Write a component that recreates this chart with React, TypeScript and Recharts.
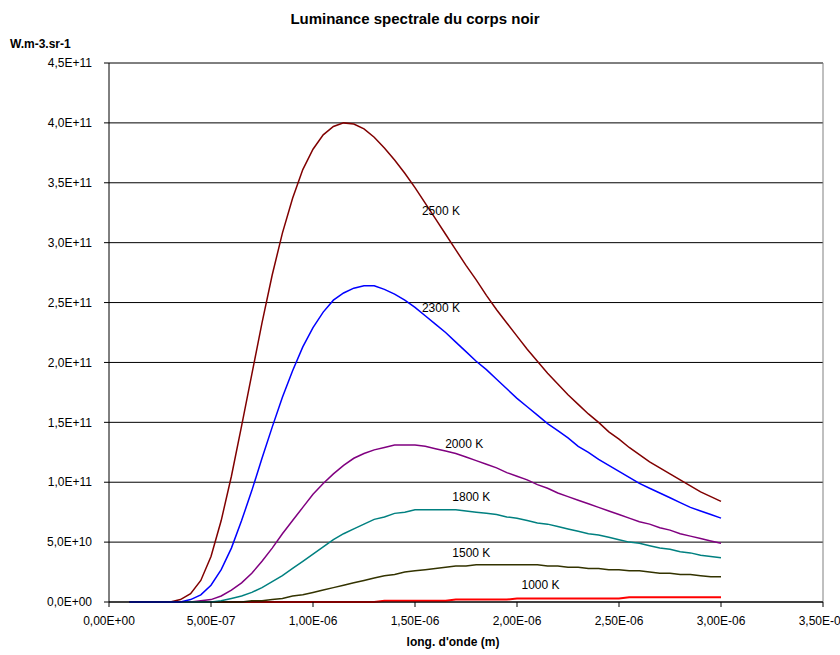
import React from "react";
import { LineChart, Line, XAxis, YAxis, CartesianGrid, ReferenceLine, ReferenceDot } from "recharts";

// wavelength in µm
const wavelengths = [
  0.1, 0.15, 0.2, 0.25, 0.3, 0.35, 0.4, 0.45, 0.5, 0.55, 0.6, 0.65, 0.7, 0.75, 0.8, 0.85, 0.9, 0.95,
  1.0, 1.05, 1.1, 1.15, 1.2, 1.25, 1.3, 1.35, 1.4, 1.45, 1.5, 1.55, 1.6, 1.65, 1.7, 1.75, 1.8, 1.85,
  1.9, 1.95, 2.0, 2.05, 2.1, 2.15, 2.2, 2.25, 2.3, 2.35, 2.4, 2.45, 2.5, 2.55, 2.6, 2.65, 2.7, 2.75,
  2.8, 2.85, 2.9, 2.95, 3.0,
];

// spectral radiance, in 1E+09 W.m-3.sr-1
const t2500 = [
  0, 0, 0, 0, 0, 2, 7, 18, 38, 68, 105, 147, 190, 233, 273, 308, 337, 361,
  378, 390, 397, 400, 399, 395, 388, 379, 369, 358, 346, 333, 320, 307, 294, 281, 269, 256,
  244, 233, 222, 211, 201, 191, 182, 173, 165, 157, 150, 142, 136, 129, 123, 117, 112, 107,
  102, 97, 92, 88, 84,
];
const t2300 = [
  0, 0, 0, 0, 0, 0, 2, 6, 14, 27, 45, 68, 93, 120, 146, 171, 193, 213,
  229, 242, 252, 258, 262, 264, 264, 261, 257, 252, 246, 239, 232, 225, 217, 209, 201, 194,
  186, 178, 170, 163, 156, 149, 143, 137, 130, 125, 119, 114, 109, 104, 99, 95, 91, 87,
  83, 79, 76, 73, 70,
];
const t2000 = [
  0, 0, 0, 0, 0, 0, 0, 1, 2, 5, 10, 16, 24, 34, 45, 57, 68, 79,
  90, 99, 107, 114, 120, 124, 127, 129, 131, 131, 131, 130, 128, 126, 124, 121, 118, 115,
  112, 108, 105, 102, 98, 95, 91, 88, 85, 82, 79, 76, 73, 70, 67, 65, 62, 60,
  57, 55, 53, 51, 49,
];
const t1800 = [
  0, 0, 0, 0, 0, 0, 0, 0, 0, 1, 3, 5, 8, 12, 17, 22, 28, 34,
  40, 46, 52, 57, 61, 65, 69, 71, 74, 75, 77, 77, 77, 77, 77, 76, 75, 74,
  73, 71, 70, 68, 66, 65, 63, 61, 59, 57, 56, 54, 52, 50, 49, 47, 45, 44,
  42, 41, 39, 38, 37,
];
const t1500 = [
  0, 0, 0, 0, 0, 0, 0, 0, 0, 0, 0, 0, 1, 1, 2, 3, 5, 6,
  8, 10, 12, 14, 16, 18, 20, 22, 23, 25, 26, 27, 28, 29, 30, 30, 31, 31,
  31, 31, 31, 31, 31, 30, 30, 29, 29, 28, 28, 27, 27, 26, 26, 25, 24, 24,
  23, 23, 22, 21, 21,
];
const t1000 = [
  0, 0, 0, 0, 0, 0, 0, 0, 0, 0, 0, 0, 0, 0, 0, 0, 0, 0,
  0, 0, 0, 0, 0, 0, 0, 1, 1, 1, 1, 1, 1, 1, 2, 2, 2, 2,
  2, 2, 3, 3, 3, 3, 3, 3, 3, 3, 3, 3, 3, 4, 4, 4, 4, 4,
  4, 4, 4, 4, 4,
];

const xTicks = [0, 0.5, 1, 1.5, 2, 2.5, 3, 3.5];
const yTicks = [0, 50, 100, 150, 200, 250, 300, 350, 400, 450];

// drawing order: first is at the bottom
const series = [
  { key: "t1000", name: "1000 K", values: t1000, color: "#ff0000", width: 2 },
  { key: "t1500", name: "1500 K", values: t1500, color: "#333300", width: 1.5 },
  { key: "t2000", name: "2000 K", values: t2000, color: "#800080", width: 1.5 },
  { key: "t2500", name: "2500 K", values: t2500, color: "#800000", width: 1.5 },
  { key: "t1800", name: "1800 K", values: t1800, color: "#008080", width: 1.5 },
  { key: "t2300", name: "2300 K", values: t2300, color: "#0000ff", width: 1.5 },
];

// where the curve names sit (µm, 1E+09 units), text starts there
const curveLabels = [
  { text: "2500 K", x: 1.534, y: 327 },
  { text: "2300 K", x: 1.534, y: 246 },
  { text: "2000 K", x: 1.648, y: 132 },
  { text: "1800 K", x: 1.683, y: 88 },
  { text: "1500 K", x: 1.683, y: 41 },
  { text: "1000 K", x: 2.022, y: 14 },
];

const data = wavelengths.map((x, i) => {
  const row: Record<string, number> = { x };
  series.forEach((s) => (row[s.key] = s.values[i]));
  return row;
});

const FONT = '"Liberation Sans", Arial, sans-serif';

function sci(v: number, digits: number) {
  const [m, e] = v.toExponential(digits).split("e");
  const n = parseInt(e, 10);
  return m.replace(".", ",") + "E" + (n < 0 ? "-" : "+") + String(Math.abs(n)).padStart(2, "0");
}

const nameLabel = (text: string) => (props: any) => {
  const vb = props.viewBox || {};
  return (
    <text x={vb.x} y={vb.y} dy="0.35em" fontSize={12} fontFamily={FONT} fill="#000">
      {text}
    </text>
  );
};

export default function App() {
  return (
    <div style={{ position: "absolute", left: 0, top: 0, width: 840, height: 655, background: "#fff", fontFamily: FONT }}>
      <div style={{ position: "absolute", left: 0, top: 10, width: 830, textAlign: "center", fontSize: 15, fontWeight: "bold", lineHeight: "18px" }}>
        Luminance spectrale du corps noir
      </div>
      <div style={{ position: "absolute", left: 10, top: 37, fontSize: 12, fontWeight: "bold", lineHeight: "15px" }}>
        W.m-3.sr-1
      </div>
      <div style={{ position: "absolute", left: 353, width: 200, top: 635, textAlign: "center", fontSize: 12, fontWeight: "bold", lineHeight: "15px" }}>
        long. d'onde (m)
      </div>
      <LineChart width={840} height={655} data={data} margin={{ top: 63, right: 17, bottom: 0, left: 0 }}>
        <CartesianGrid vertical={false} stroke="#000" strokeWidth={1} />
        <ReferenceLine y={450} stroke="#808080" strokeWidth={1} />
        <ReferenceLine x={3.5} stroke="#808080" strokeWidth={1} />
        <XAxis
          type="number"
          dataKey="x"
          domain={[0, 3.5]}
          ticks={xTicks}
          interval={0}
          height={53}
          tickSize={5}
          tickMargin={9}
          tickFormatter={(v: number) => sci(v * 1e-6, 2)}
          axisLine={{ stroke: "#000" }}
          tickLine={{ stroke: "#000" }}
          tick={{ fill: "#000", fontSize: 12, fontFamily: FONT }}
        />
        <YAxis
          type="number"
          domain={[0, 450]}
          ticks={yTicks}
          interval={0}
          width={109}
          tickSize={5}
          tickMargin={12}
          tickFormatter={(v: number) => sci(v * 1e9, 1)}
          axisLine={{ stroke: "#000" }}
          tickLine={{ stroke: "#000" }}
          tick={{ fill: "#000", fontSize: 12, fontFamily: FONT }}
        />
        {series.map((s) => (
          <Line
            key={s.key}
            type="linear"
            dataKey={s.key}
            name={s.name}
            stroke={s.color}
            strokeWidth={s.width}
            dot={false}
            isAnimationActive={false}
          />
        ))}
        {curveLabels.map((l) => (
          <ReferenceDot key={l.text} x={l.x} y={l.y} r={0} stroke="none" fill="none" label={nameLabel(l.text)} />
        ))}
      </LineChart>
    </div>
  );
}
